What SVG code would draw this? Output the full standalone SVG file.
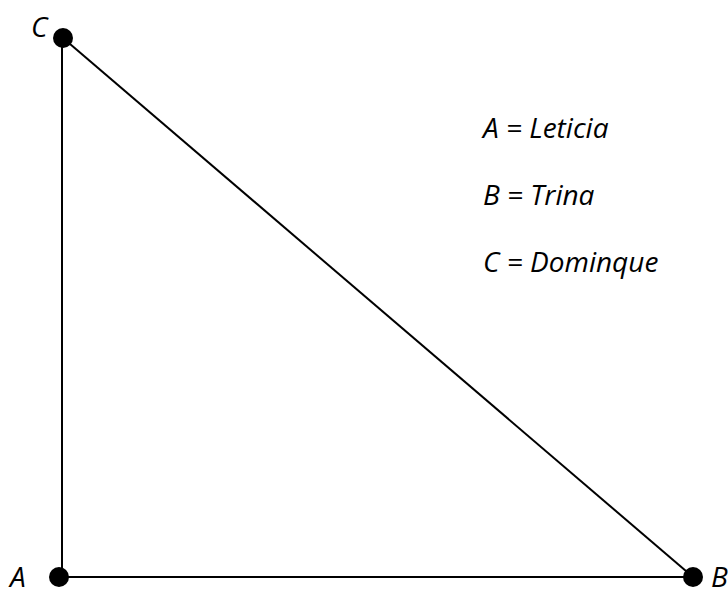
<svg xmlns="http://www.w3.org/2000/svg" width="728" height="590" viewBox="0 0 728 590">
<style>
text{font-family:"Open Sans","Liberation Sans",sans-serif;font-style:italic;font-size:28px;fill:#000}
.edge{stroke:#000;stroke-width:2;fill:none}
.dot{fill:#000}
</style>
<rect width="728" height="590" fill="#fff"/>
<g id="connectors">
<line class="edge" x1="62" y1="38" x2="62" y2="577"/>
<line class="edge" x1="59" y1="577" x2="693" y2="577"/>
<line class="edge" x1="63" y1="38" x2="693" y2="577"/>
</g>
<g id="node-C"><circle class="dot" cx="63" cy="38" r="10"/><text x="31" y="37">C</text></g>
<g id="node-A"><circle class="dot" cx="59" cy="577" r="10"/><text x="10" y="587">A</text></g>
<g id="node-B"><circle class="dot" cx="693" cy="577" r="10"/><text x="711" y="587">B</text></g>
<g id="legend">
<text x="483" y="138">A = Leticia</text>
<text x="483" y="205">B = Trina</text>
<text x="483" y="272">C = Dominque</text>
</g>
</svg>
